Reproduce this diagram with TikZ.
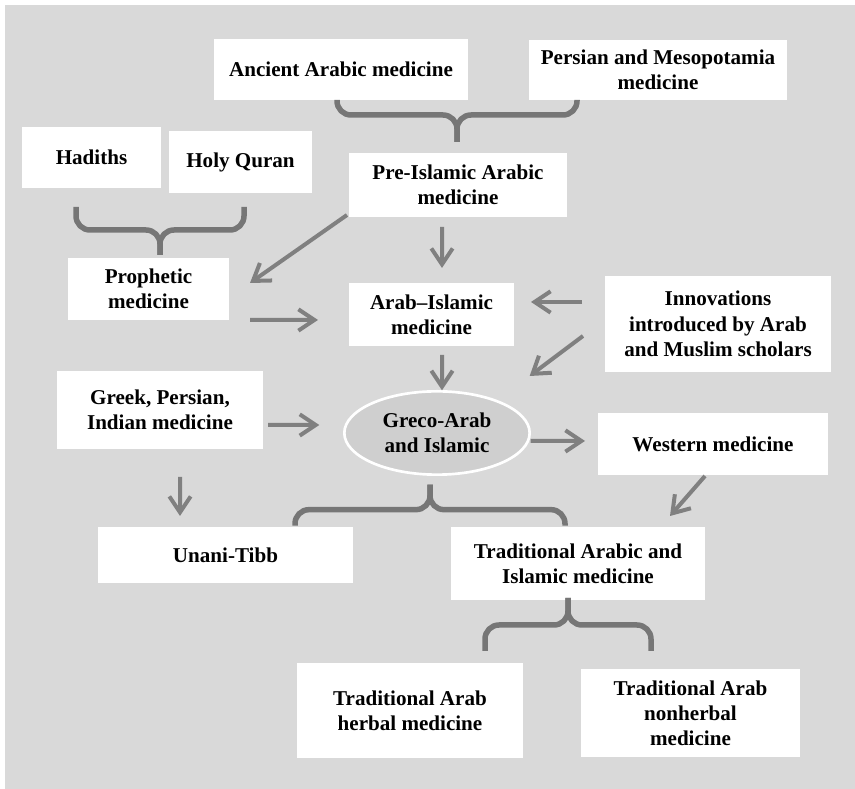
\documentclass[tikz,border=0pt]{standalone}
\usepackage{fontspec}
\setmainfont{Liberation Serif}
\usetikzlibrary{arrows.meta,shapes.geometric}

\definecolor{fondogris}{RGB}{217,217,217}
\definecolor{elipsegris}{RGB}{207,207,207}
\definecolor{flechagris}{RGB}{128,128,128}
\definecolor{llavegris}{RGB}{118,118,118}

\tikzset{
	caja/.style={fill=white, inner sep=0pt, outer sep=0pt, align=center,
		font=\fontsize{18}{21.5}\selectfont\bfseries},
	flecha/.style={flechagris, line width=1.2mm,
		-{Straight Barb[length=4.8mm, width=6.4mm]}},
	llave/.style={llavegris, line width=1.65mm, rounded corners=4.2mm}
}

\begin{document}
\begin{tikzpicture}
		% Fondo
		\useasboundingbox (0,0) rectangle (25.65,23.67);
		\fill[fondogris] (0.15,0) rectangle (25.65,23.52);
		
		% Fila superior
		\node[caja, minimum width=7.62cm, minimum height=1.83cm] (ancient) at (10.23,21.585) {Ancient Arabic medicine};
		\node[caja, minimum width=7.74cm, minimum height=1.8cm] (persian) at (19.74,21.57) {Persian and Mesopotamia\\medicine};
		
		% Segunda fila
		\node[caja, minimum width=4.17cm, minimum height=1.83cm] (hadiths) at (2.745,18.945) {Hadiths};
		\node[caja, minimum width=4.29cm, minimum height=1.86cm] (quran) at (7.215,18.81) {Holy Quran};
		\node[caja, minimum width=6.54cm, minimum height=1.92cm] (preislamic) at (13.74,18.12) {Pre-Islamic Arabic\\medicine};
		
		% Tercera fila
		\node[caja, minimum width=4.83cm, minimum height=1.86cm] (prophetic) at (4.455,15.0) {Prophetic\\medicine};
		\node[caja, minimum width=4.95cm, minimum height=1.89cm] (arabislamic) at (12.945,14.235) {Arab--Islamic\\medicine};
		\node[caja, minimum width=6.78cm, minimum height=2.88cm] (innovations) at (21.54,13.95) {Innovations\\introduced by Arab\\and Muslim scholars};
		
		% Cuarta fila
		\node[caja, ellipse, fill=elipsegris, draw=white, line width=0.8mm,
			minimum width=5.56cm, minimum height=2.5cm] (grecoarab) at (13.11,10.68) {Greco-Arab\\and Islamic};
		\node[caja, minimum width=6.18cm, minimum height=2.34cm] (greek) at (4.8,11.37) {Greek, Persian,\\Indian medicine};
		\node[caja, minimum width=6.9cm, minimum height=1.86cm] (western) at (21.39,10.35) {Western medicine};
		
		% Quinta fila
		\node[caja, minimum width=7.65cm, minimum height=1.68cm] (unani) at (6.765,7.02) {Unani-Tibb};
		\node[caja, minimum width=7.62cm, minimum height=2.19cm] (tradition) at (17.34,6.765) {Traditional Arabic and\\Islamic medicine};
		
		% Fila inferior
		\node[caja, minimum width=6.78cm, minimum height=2.85cm] (herbal) at (12.3,2.355) {Traditional Arab\\herbal medicine};
		\node[caja, minimum width=6.57cm, minimum height=2.64cm] (nonherbal) at (20.715,2.28) {Traditional Arab\\nonherbal\\medicine};
		
		% Llaves
		\draw[llave] ([shift={(-0.03,0.33)}]preislamic.north) -- ++(0,0.81) -- ++(-3.6,0) -- ++(0,0.45);
		\draw[llave] ([shift={(-0.03,0.33)}]preislamic.north) -- ++(0,0.81) -- ++(3.6,0) -- ++(0,0.45);
		\draw[llave] ([shift={(0.345,0.09)}]prophetic.north) -- ++(0,0.75) -- ++(-2.52,0) -- ++(0,0.69);
		\draw[llave] ([shift={(0.345,0.09)}]prophetic.north) -- ++(0,0.75) -- ++(2.52,0) -- ++(0,0.69);
		\draw[llave] ([shift={(-0.21,-0.3)}]grecoarab.south) -- ++(0,-0.75) -- ++(-4.05,0) -- ++(0,-0.48);
		\draw[llave] ([shift={(-0.21,-0.3)}]grecoarab.south) -- ++(0,-0.75) -- ++(4.05,0) -- ++(0,-0.48);
		\draw[llave] ([shift={(-0.3,0.06)}]tradition.south) -- ++(0,-0.81) -- ++(-2.49,0) -- ++(0,-0.78);
		\draw[llave] ([shift={(-0.3,0.06)}]tradition.south) -- ++(0,-0.81) -- ++(2.49,0) -- ++(0,-0.78);
		
		% Flechas
		\draw[flecha] ([shift={(-0.06,0.06)}]preislamic.south west) -- ([shift={(0.63,-0.75)}]prophetic.north east);
		\draw[flecha] ([shift={(-0.48,-0.3)}]preislamic.south) -- ([shift={(0.315,0.45)}]arabislamic.north);
		\draw[flecha] ([shift={(0.63,0)}]prophetic.south east) -- ([shift={(-0.93,-0.165)}]arabislamic.west);
		\draw[flecha] ([shift={(-0.69,0.66)}]innovations.west) -- ([shift={(0.51,0.375)}]arabislamic.east);
		\draw[flecha] ([shift={(-0.66,-0.36)}]innovations.west) -- ([shift={(0,1.71)}]grecoarab.east);
		\draw[flecha] ([shift={(0.315,-0.27)}]arabislamic.south) -- ([shift={(0.15,0.03)}]grecoarab.north);
		\draw[flecha] ([shift={(0.15,-0.45)}]greek.east) -- ([shift={(-0.75,0.24)}]grecoarab.west);
		\draw[flecha] ([shift={(0.03,-0.24)}]grecoarab.east) -- ([shift={(-0.39,0.09)}]western.west);
		\draw[flecha] ([shift={(0.6,-0.84)}]greek.south) -- ([shift={(-1.365,0.33)}]unani.north);
		\draw[flecha] ([shift={(-0.24,-0.03)}]western.south) -- ([shift={(-1.05,0.33)}]tradition.north east);
	\end{tikzpicture}
\end{document}
